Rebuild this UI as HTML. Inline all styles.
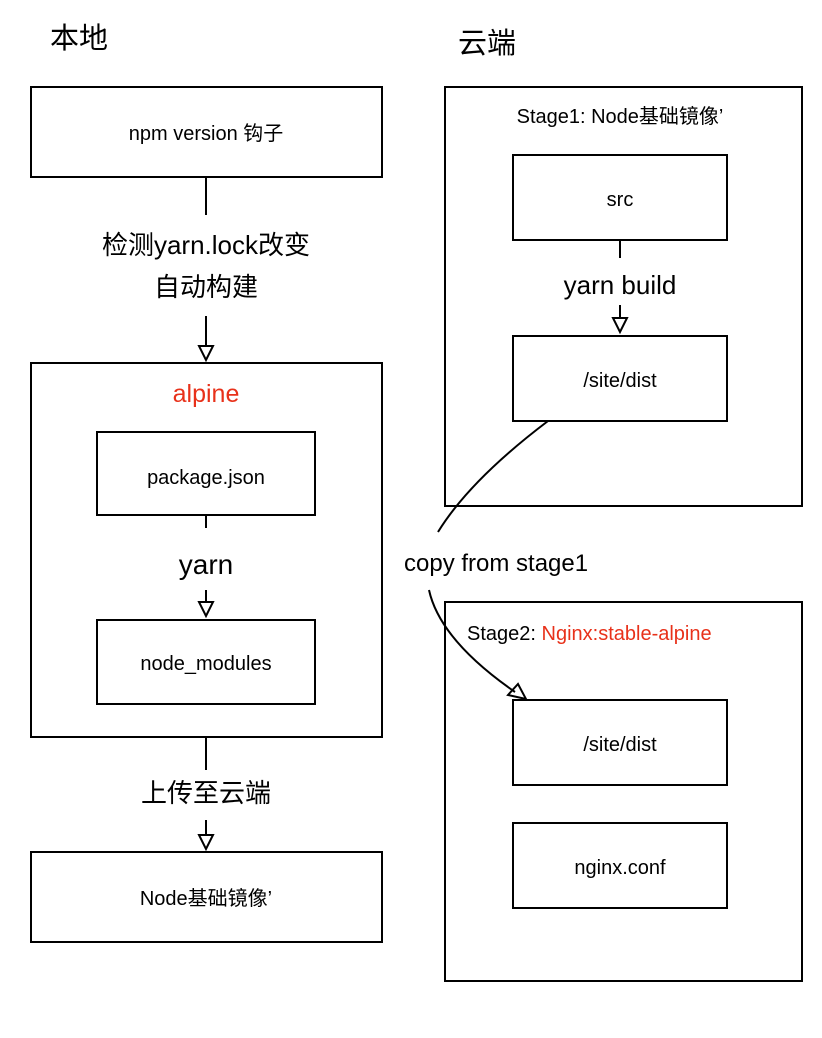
<!DOCTYPE html>
<html><head><meta charset="utf-8"><style>
html,body{margin:0;padding:0;background:#fff;}
svg{display:block;}
text{font-family:"Liberation Sans","Noto Sans CJK SC",sans-serif;fill:#000;}
.r{fill:#e8311a;}
</style></head><body>
<svg width="822" height="1038" viewBox="0 0 822 1038" xmlns="http://www.w3.org/2000/svg">
<g fill="none" stroke="#000" stroke-width="2">
<rect x="31" y="87" width="351" height="90"/>
<rect x="31" y="363" width="351" height="374"/>
<rect x="97" y="432" width="218" height="83"/>
<rect x="97" y="620" width="218" height="84"/>
<rect x="31" y="852" width="351" height="90"/>
<rect x="445" y="87" width="357" height="419"/>
<rect x="513" y="155" width="214" height="85"/>
<rect x="513" y="336" width="214" height="85"/>
<rect x="445" y="602" width="357" height="379"/>
<rect x="513" y="700" width="214" height="85"/>
<rect x="513" y="823" width="214" height="85"/>
<line x1="206" y1="177" x2="206" y2="215"/>
<line x1="206" y1="316" x2="206" y2="346"/>
<path d="M199,346 L213,346 L206,360 Z"/>
<line x1="206" y1="515" x2="206" y2="528"/>
<line x1="206" y1="590" x2="206" y2="602"/>
<path d="M199,602 L213,602 L206,616 Z"/>
<line x1="206" y1="737" x2="206" y2="770"/>
<line x1="206" y1="820" x2="206" y2="835"/>
<path d="M199,835 L213,835 L206,849 Z"/>
<line x1="620" y1="240" x2="620" y2="258"/>
<line x1="620" y1="305" x2="620" y2="318"/>
<path d="M613,318 L627,318 L620,332 Z"/>
<path d="M548,421 Q470,480 438,532"/>
<path d="M429,590 Q440,640 515,692"/>
<path d="M508,695 L518,684 L526,699 Z"/>
</g>
<text x="50" y="48" font-size="29">本地</text>
<text x="458" y="53" font-size="29">云端</text>
<text x="206" y="140" font-size="20" text-anchor="middle">npm version 钩子</text>
<text x="206" y="254" font-size="26" text-anchor="middle">检测yarn.lock改变</text>
<text x="206" y="296" font-size="26" text-anchor="middle">自动构建</text>
<text x="206" y="402" font-size="25" text-anchor="middle" class="r">alpine</text>
<text x="206" y="484" font-size="20" text-anchor="middle">package.json</text>
<text x="206" y="574" font-size="28" text-anchor="middle">yarn</text>
<text x="206" y="670" font-size="20" text-anchor="middle">node_modules</text>
<text x="206" y="802" font-size="26" text-anchor="middle">上传至云端</text>
<text x="206" y="905" font-size="20" text-anchor="middle">Node基础镜像’</text>
<text x="620" y="123" font-size="20" text-anchor="middle">Stage1: Node基础镜像’</text>
<text x="620" y="206" font-size="20" text-anchor="middle">src</text>
<text x="620" y="294" font-size="26" text-anchor="middle">yarn build</text>
<text x="620" y="387" font-size="20" text-anchor="middle">/site/dist</text>
<text x="404" y="571" font-size="24">copy from stage1</text>
<text x="467" y="640" font-size="20">Stage2: <tspan class="r">Nginx:stable-alpine</tspan></text>
<text x="620" y="751" font-size="20" text-anchor="middle">/site/dist</text>
<text x="620" y="874" font-size="20" text-anchor="middle">nginx.conf</text>
</svg>
</body></html>
